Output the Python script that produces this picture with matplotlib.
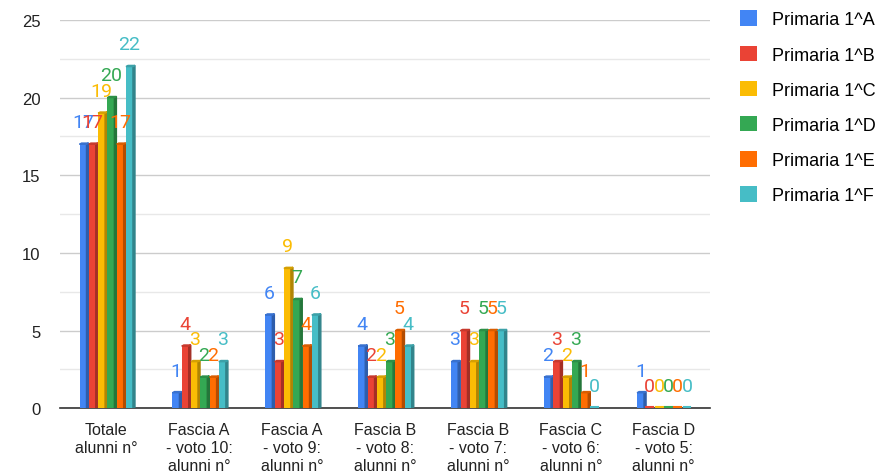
import matplotlib.pyplot as plt
import numpy as np
from matplotlib.patches import Patch, Polygon

categories = ["Totale\nalunni n°", "Fascia A\n- voto 10:\nalunni n°", "Fascia A\n- voto 9:\nalunni n°",
              "Fascia B\n- voto 8:\nalunni n°", "Fascia B\n- voto 7:\nalunni n°",
              "Fascia C\n- voto 6:\nalunni n°", "Fascia D\n- voto 5:\nalunni n°"]
series = ["Primaria 1^A", "Primaria 1^B", "Primaria 1^C", "Primaria 1^D", "Primaria 1^E", "Primaria 1^F"]
vals_a = [17, 1, 6, 4, 3, 2, 1]
vals_b = [17, 4, 3, 2, 5, 3, 0]
vals_c = [19, 3, 9, 2, 3, 2, 0]
vals_d = [20, 2, 7, 3, 5, 3, 0]
vals_e = [17, 2, 4, 5, 5, 1, 0]
vals_f = [22, 3, 6, 4, 5, 0, 0]
colors = ["#4285F4", "#EA4335", "#FBBC04", "#34A853", "#FF6D01", "#46BDC6"]

plt.rcParams['font.family'] = ['Liberation Sans', 'DejaVu Sans']


def darker(c, f=0.7):
    r, g, b = [int(c[i:i + 2], 16) / 255 for i in (1, 3, 5)]
    return (r * f, g * f, b * f)


fig = plt.figure(figsize=(8.79, 4.77), dpi=100)
ax = fig.add_axes([0.068, 0.142, 0.74, 0.814])

all_vals = [vals_a, vals_b, vals_c, vals_d, vals_e, vals_f]
x = np.arange(len(categories))
step = 0.1
w = 0.075
dx = 0.022
dy = 0.25
for i, (vals, col) in enumerate(zip(all_vals, colors)):
    pos = x - 2.5 * step + i * step
    ax.bar(pos, vals, width=w, color=col, zorder=3)
    for p, v in zip(pos, vals):
        r = p + w / 2
        if v > 0:
            ax.add_patch(Polygon([(r, 0), (r + dx, dy * 0.3), (r + dx, v + dy * 0.3), (r, v)],
                                 closed=True, color=darker(col), zorder=3))
            ax.add_patch(Polygon([(p - w / 2, v), (r, v), (r + dx, v + dy * 0.3), (p - w / 2 + dx, v + dy * 0.3)],
                                 closed=True, color=darker(col, 0.85), zorder=3))
        else:
            ax.plot([p - w / 2, r], [0.05, 0.05], color=col, lw=1.5, zorder=3)
        ax.text(p, v + 0.85, str(v), color=col, fontsize=14, ha="center", va="bottom", zorder=4,
                family=['Roboto', 'DejaVu Sans'])

ax.set_xlim(-0.5, len(categories) - 0.5)
ax.set_ylim(0, 25)
ax.set_yticks([0, 5, 10, 15, 20, 25])
ax.set_yticks(np.arange(0, 25, 2.5), minor=True)
ax.grid(axis="y", which="major", color="#cccccc", lw=1, zorder=0)
ax.grid(axis="y", which="minor", color="#e8e8e8", lw=1, zorder=0)
ax.set_xticks(x)
ax.set_xticklabels(categories, fontsize=11.5, color="#222222", linespacing=1.25)
ax.tick_params(axis="both", which="both", length=0, labelsize=12, colors="#222222")
ax.tick_params(axis="x", pad=10, labelsize=11.5)
ax.tick_params(axis="y", pad=14)
for s in ["top", "right", "left"]:
    ax.spines[s].set_visible(False)
ax.spines["bottom"].set_color("#333333")
ax.spines["bottom"].set_linewidth(1.2)

handles = [Patch(facecolor=c, label=s) for c, s in zip(colors, series)]
fig.legend(handles=handles, loc="upper left", bbox_to_anchor=(0.823, 1.01), frameon=False,
           fontsize=13, handlelength=0.95, handleheight=0.95, labelspacing=0.95, handletextpad=0.85)

fig.savefig("out.png", dpi=100)
